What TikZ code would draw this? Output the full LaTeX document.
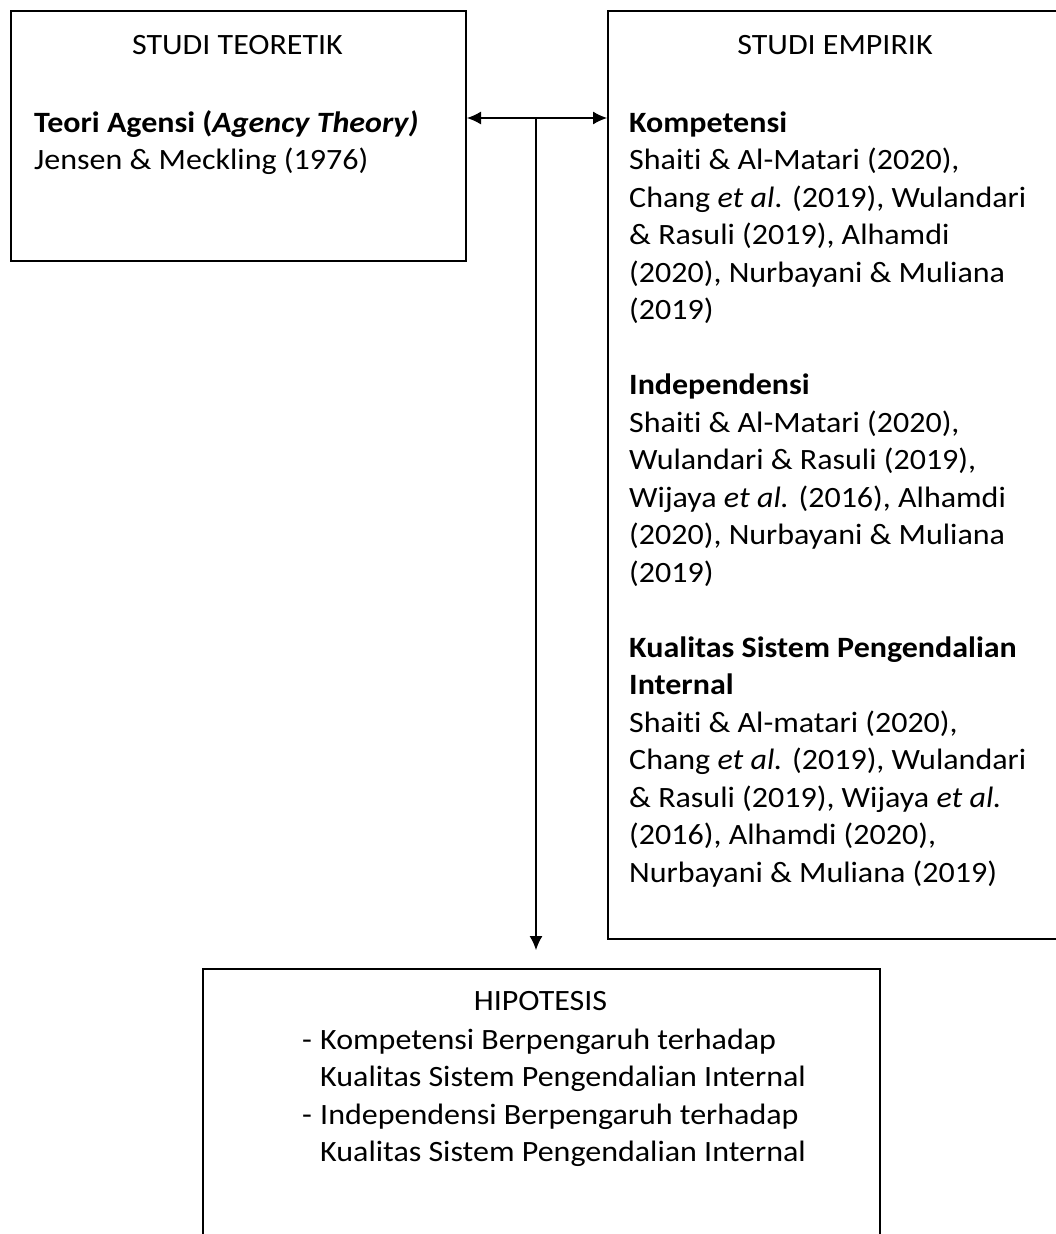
\documentclass[tikz,border=0pt]{standalone}
\usepackage{fontspec}
\setmainfont{Carlito}[FakeStretch=1.085, Ligatures=NoCommon]
\usetikzlibrary{arrows.meta}
\begin{document}
\begin{tikzpicture}[x=1pt,y=-1pt,
  box/.style={draw, line width=2pt, inner sep=0pt, anchor=north west},
  txt/.style={font=\fontsize{29.5}{37.5}\selectfont, inner sep=0pt, align=left, anchor=base west},
  ttl/.style={font=\fontsize{29.5}{37.5}\selectfont, inner sep=0pt, anchor=base},
  conn/.style={line width=1.2pt},
  tip/.style={-{Latex[length=14pt,width=13pt]}},
  tips/.style={{Latex[length=14pt,width=13pt]}-{Latex[length=14pt,width=13pt]}}
]
\useasboundingbox (0,0) rectangle (1056,1234);
\clip (0,0) rectangle (1056,1234);
\fill[white] (0,0) rectangle (1056,1234);
% boxes
\node[box, minimum width=455pt, minimum height=250pt] (teori) at (10,10) {};
\node[box, minimum width=456pt, minimum height=928pt] (empiris) at (607,10) {};
\node[box, minimum width=677pt, minimum height=320pt] (hipo) at (202,968) {};
% texts left (base anchor = last line)
\node[ttl] (t1) at (237.5,54) {STUDI TEORETIK};
\node[txt] (t2) at (34,169.5) {\textbf{Teori Agensi (\textit{Agency Theory)}}\\Jensen \& Meckling (1976)};
% texts right
\node[ttl] (e1) at (835,54) {STUDI EMPIRIK};
\node[txt] (e2) at (629,319.5) {\textbf{Kompetensi}\\Shaiti \& Al-Matari (2020),\\Chang \textit{et al}. (2019), Wulandari\\\& Rasuli (2019), Alhamdi\\(2020), Nurbayani \& Muliana\\(2019)};
\node[txt] (e3) at (629,582) {\textbf{Independensi}\\Shaiti \& Al-Matari (2020),\\Wulandari \& Rasuli (2019),\\Wijaya \textit{et al.} (2016), Alhamdi\\(2020), Nurbayani \& Muliana\\(2019)};
\node[txt] (e4) at (629,882) {\textbf{Kualitas Sistem Pengendalian}\\\textbf{Internal}\\Shaiti \& Al-matari (2020),\\Chang \textit{et al.} (2019), Wulandari\\\& Rasuli (2019), Wijaya \textit{et al.}\\(2016), Alhamdi (2020),\\Nurbayani \& Muliana (2019)};
% texts bottom
\node[ttl] (h1) at (540.5,1010) {HIPOTESIS};
\node[txt] (d1) at (302,1049) {-};
\node[txt] (h2) at (320,1086.5) {Kompetensi Berpengaruh terhadap\\Kualitas Sistem Pengendalian Internal};
\node[txt] (d2) at (302,1124) {-};
\node[txt] (h3) at (320,1161.5) {Independensi Berpengaruh terhadap\\Kualitas Sistem Pengendalian Internal};
% connectors
\coordinate (j) at (536,118);
\draw[conn,tips] (teori.east |- j) -- (empiris.west |- j);
\draw[conn,tip,shorten >=18pt] (j) -- (hipo.north -| j);
\end{tikzpicture}
\end{document}
